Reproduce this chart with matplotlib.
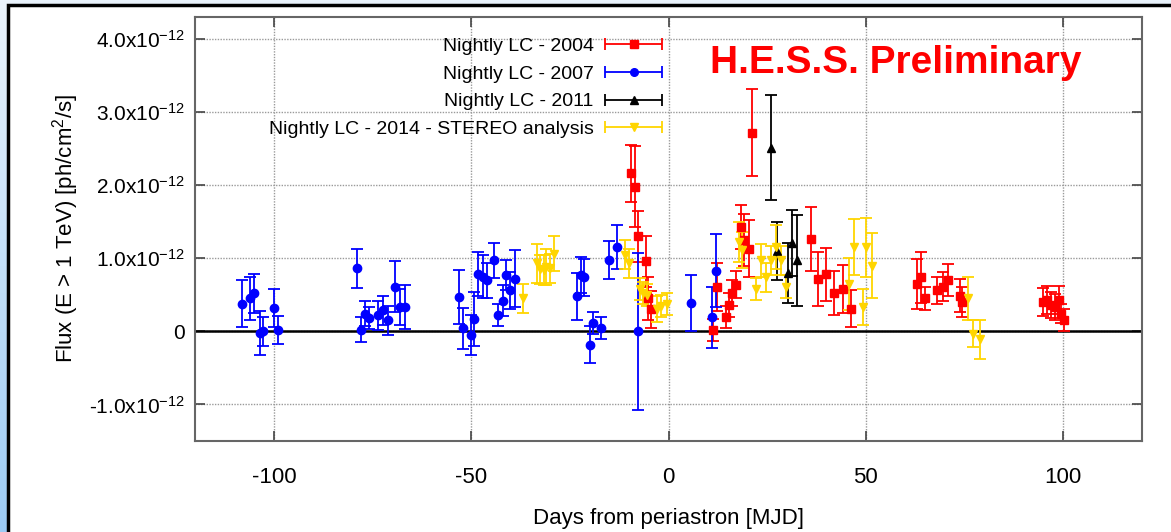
import numpy as np
import matplotlib
matplotlib.use("Agg")
import matplotlib.pyplot as plt
from matplotlib.patches import Rectangle
from matplotlib.container import ErrorbarContainer
from matplotlib.legend_handler import HandlerErrorbar

plt.rcParams["font.family"] = ["Liberation Sans", "DejaVu Sans"]
plt.rcParams["mathtext.default"] = "regular"

# flux values are in units of 1e-12 ph/cm2/s
SCALE = 1e-12

days_2004 = [-9.6, -8.6, -7.7, -5.6, -5.1, -4.5, 11.2, 12.4, 14.5, 15.3, 16.2, 17.0,
             18.3, 19.1, 20.4, 21.1, 36.0, 38.0, 40.0, 42.0, 44.1, 46.2, 63.1, 64.0,
             65.0, 68.0, 69.5, 70.9, 73.9, 74.5, 94.8, 95.9, 96.9, 97.9, 99.0, 99.5, 100.3]
flux_2004 = [2.16, 1.98, 1.30, 0.96, 0.45, 0.30, 0.02, 0.61, 0.19, 0.36, 0.52, 0.64,
             1.43, 1.25, 1.13, 2.72, 1.26, 0.72, 0.78, 0.52, 0.58, 0.31, 0.65, 0.74,
             0.45, 0.56, 0.61, 0.70, 0.49, 0.40, 0.40, 0.43, 0.36, 0.33, 0.43, 0.24, 0.15]
err_2004 = [0.39, 0.55, 0.35, 0.35, 0.30, 0.25, 0.15, 0.33, 0.15, 0.16, 0.18, 0.18,
            0.30, 0.35, 0.39, 0.59, 0.44, 0.37, 0.36, 0.30, 0.33, 0.25, 0.34, 0.35,
            0.16, 0.18, 0.20, 0.22, 0.23, 0.20, 0.19, 0.19, 0.18, 0.18, 0.19, 0.13, 0.15]

days_2007 = [-108.2, -106.0, -105.0, -103.6, -102.8, -100.0, -99.0, -79.0, -78.0, -77.0,
             -76.0, -73.5, -72.3, -71.0, -69.3, -68.0, -66.8, -53.2, -52.1, -50.1,
             -49.2, -48.3, -47.0, -46.0, -44.1, -43.1, -42.0, -41.1, -40.1, -39.0,
             -23.3, -22.3, -21.5, -20.0, -19.1, -17.0, -15.0, -13.0, -7.8, 5.8, 11.1, 12.1]
flux_2007 = [0.38, 0.45, 0.52, -0.02, 0.00, 0.32, 0.02, 0.86, 0.02, 0.24,
             0.18, 0.22, 0.29, 0.15, 0.61, 0.33, 0.33, 0.47, 0.04, -0.05,
             0.17, 0.79, 0.75, 0.70, 0.97, 0.22, 0.42, 0.77, 0.56, 0.72,
             0.48, 0.77, 0.74, -0.18, 0.11, 0.04, 0.97, 1.15, 0.00, 0.39, 0.19, 0.83]
err_2007 = [0.32, 0.30, 0.27, 0.30, 0.20, 0.26, 0.19, 0.27, 0.17, 0.17,
            0.15, 0.20, 0.20, 0.20, 0.35, 0.25, 0.30, 0.37, 0.28, 0.27,
            0.37, 0.30, 0.30, 0.24, 0.24, 0.15, 0.21, 0.20, 0.25, 0.39,
            0.32, 0.25, 0.25, 0.25, 0.15, 0.15, 0.26, 0.30, 1.07, 0.38, 0.42, 0.50]

days_2011 = [26.1, 27.4, 30.3, 31.4, 32.5]
flux_2011 = [2.51, 1.10, 0.80, 1.21, 0.97]
err_2011 = [0.72, 0.40, 0.41, 0.45, 0.62]

days_2014 = [-36.9, -33.2, -32.5, -31.6, -31.0, -30.0, -29.1, -10.9, -10.1, -7.1, -6.4,
             -5.5, -2.9, -2.0, -0.3, 17.8, 18.7, 22.1, 23.4, 24.6, 25.9, 27.2, 28.4,
             29.7, 45.8, 47.0, 49.2, 50.0, 51.7, 75.8, 77.1, 79.0]
flux_2014 = [0.45, 0.93, 0.85, 0.84, 0.88, 0.86, 1.06, 1.05, 0.93, 0.58, 0.52,
             0.50, 0.31, 0.35, 0.38, 1.22, 1.11, 0.58, 0.97, 0.74, 0.97, 1.15, 0.97,
             0.61, 0.65, 1.15, 0.33, 1.15, 0.90, 0.45, -0.03, -0.11]
err_2014 = [0.20, 0.27, 0.20, 0.20, 0.25, 0.20, 0.24, 0.20, 0.20, 0.15, 0.15,
            0.15, 0.18, 0.15, 0.15, 0.27, 0.25, 0.15, 0.23, 0.20, 0.20, 0.30, 0.20,
            0.16, 0.36, 0.38, 0.25, 0.40, 0.45, 0.30, 0.18, 0.27]

labels = ["Nightly LC - 2004", "Nightly LC - 2007", "Nightly LC - 2011",
          "Nightly LC - 2014 - STEREO analysis"]
colors = ["#ff0000", "#0000ff", "#000000", "#ffd500"]
markers = ["s", "o", "^", "v"]

xticks = [-100, -50, 0, 50, 100]
xticklabels = ["-100", "-50", "0", "50", "100"]
yticks = [-1e-12, 0, 1e-12, 2e-12, 3e-12, 4e-12]
yticklabels = ["-1.0x10$^{-12}$", "0", "1.0x10$^{-12}$", "2.0x10$^{-12}$",
               "3.0x10$^{-12}$", "4.0x10$^{-12}$"]

W, H = 1171, 532
fig = plt.figure(figsize=(W / 100, H / 100), dpi=100)

# slide background: pale blue gradient with white panel
bg = fig.add_axes([0, 0, 1, 1])
grad = np.linspace(0, 1, 256).reshape(-1, 1)
bg.imshow(grad, extent=[0, W, H, 0], aspect="auto",
          cmap=matplotlib.colors.LinearSegmentedColormap.from_list("bg", ["#eaf3fc", "#9ccbf4"]))
bg.add_patch(Rectangle((8, 5), W + 20, H + 20, facecolor="white", edgecolor="black", lw=2.5))
bg.set_xlim(0, W)
bg.set_ylim(H, 0)
bg.axis("off")

ax = fig.add_axes([195 / W, 1 - 441 / H, (1142 - 195) / W, (441 - 17) / H])
ax.set_zorder(1)

series = [(days_2004, flux_2004, err_2004), (days_2007, flux_2007, err_2007),
          (days_2011, flux_2011, err_2011), (days_2014, flux_2014, err_2014)]

handles = []
for (d, f, e), c, m, lab in zip(series, colors, markers, labels):
    f = np.array(f) * SCALE
    e = np.array(e) * SCALE
    ax.errorbar(d, f, yerr=e, fmt=m, color=c, ms=6, elinewidth=1.3,
                capsize=4.5, capthick=1.3, zorder=3)
    # legend proxy: horizontal error bar
    h = ax.errorbar([np.nan], [np.nan], xerr=[1], fmt=m, color=c, ms=5.5,
                    elinewidth=1.3, capsize=4.5, capthick=1.3, label=lab)
    handles.append(h)

ax.axhline(0, color="black", lw=1.8, zorder=2)

ax.set_xlim(-120, 120)
ax.set_ylim(-1.5e-12, 4.3e-12)
ax.set_xticks(xticks)
ax.set_xticklabels(xticklabels)
ax.set_yticks(yticks)
ax.set_yticklabels(yticklabels)

ax.grid(True, color="#9a9a9a", ls=(0, (1, 1)), lw=1.0, zorder=0)
ax.tick_params(direction="in", length=7, width=1.2, top=True, right=True,
               labelsize=16, color="#444444")
ax.tick_params(axis="x", pad=19)
ax.tick_params(axis="y", pad=7, labelsize=15)
for s in ax.spines.values():
    s.set_color("#666666")
    s.set_linewidth(1.5)

ax.set_xlabel("Days from periastron [MJD]", fontsize=16, labelpad=14)
ax.set_ylabel("Flux (E > 1 TeV) [ph/cm$^2$/s]", fontsize=16, labelpad=6)

leg = ax.legend(handles=handles, loc="upper right", bbox_to_anchor=(0.493, 0.952),
                frameon=False, markerfirst=False, fontsize=14, handlelength=2.9,
                handletextpad=0.6, labelspacing=0.52, borderpad=0, borderaxespad=0,
                numpoints=1,
                handler_map={ErrorbarContainer: HandlerErrorbar(xerr_size=1.45)})

ax.text(0.544, 0.868, "H.E.S.S. Preliminary", transform=ax.transAxes, color="#ff0000",
        fontsize=28, fontweight="bold", ha="left", va="baseline")

fig.savefig("out.png", dpi=100)
